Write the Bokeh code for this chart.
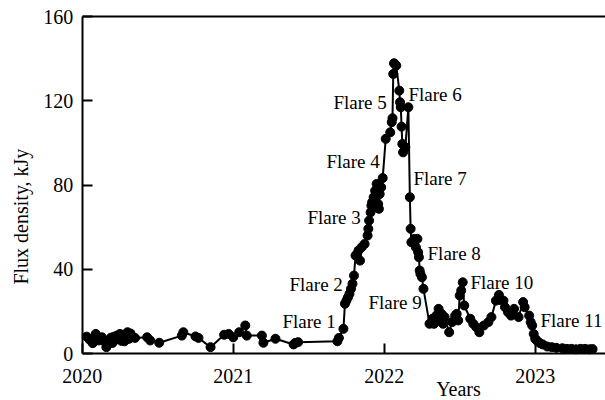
import math
from bokeh.plotting import figure
from bokeh.models import (ColumnDataSource, Range1d, FixedTicker, LinearAxis, Label)
from bokeh.embed import file_html
from bokeh.resources import INLINE

# ---- data (decimal years, flux density in kJy) ----
years = [
    2020.03, 2020.05, 2020.07, 2020.09, 2020.11, 2020.13, 2020.15, 2020.16, 2020.18, 2020.19,
    2020.20, 2020.21, 2020.22, 2020.23, 2020.25, 2020.26, 2020.27, 2020.28, 2020.30, 2020.31,
    2020.32, 2020.33, 2020.35, 2020.43, 2020.45, 2020.51, 2020.66, 2020.67, 2020.75, 2020.77,
    2020.85, 2020.94, 2020.97, 2021.00, 2021.04, 2021.08, 2021.09, 2021.19, 2021.20, 2021.28,
    2021.40, 2021.41, 2021.43, 2021.69, 2021.70, 2021.73, 2021.74, 2021.75, 2021.76, 2021.77,
    2021.78, 2021.79, 2021.80, 2021.81, 2021.82, 2021.83, 2021.84, 2021.85, 2021.87, 2021.89,
    2021.895, 2021.90, 2021.91, 2021.915, 2021.92, 2021.93, 2021.94, 2021.95, 2021.96, 2021.965,
    2021.97, 2021.98, 2021.99, 2022.01, 2022.04, 2022.05, 2022.055, 2022.06, 2022.065, 2022.07,
    2022.08, 2022.10, 2022.105, 2022.11, 2022.115, 2022.12, 2022.125, 2022.14, 2022.16, 2022.17,
    2022.175, 2022.18, 2022.20, 2022.21, 2022.22, 2022.225, 2022.23, 2022.235, 2022.24, 2022.25,
    2022.26, 2022.30, 2022.32, 2022.33, 2022.345, 2022.36, 2022.37, 2022.38, 2022.39, 2022.40,
    2022.43, 2022.45, 2022.47, 2022.48, 2022.49, 2022.50, 2022.51, 2022.52, 2022.53, 2022.57,
    2022.59, 2022.61, 2022.63, 2022.66, 2022.69, 2022.71, 2022.74, 2022.76, 2022.77, 2022.79,
    2022.80, 2022.82, 2022.84, 2022.86, 2022.89, 2022.92, 2022.93, 2022.96, 2022.97, 2022.98,
    2022.99, 2023.00, 2023.01, 2023.03, 2023.05, 2023.08, 2023.11, 2023.14, 2023.18, 2023.21,
    2023.24, 2023.27, 2023.30, 2023.33, 2023.36, 2023.38,
]
flux = [
    8.0, 6.5, 4.9, 9.3, 6.2, 7.7, 5.5, 3.0, 6.0, 7.5,
    5.0, 8.0, 6.5, 8.5, 9.3, 6.0, 8.0, 5.8, 10.1, 7.0,
    9.5, 7.7, 7.4, 7.7, 6.2, 5.1, 8.5, 10.1, 8.1, 7.4,
    3.0, 8.9, 9.3, 7.7, 10.1, 13.3, 8.5, 8.5, 5.1, 7.0,
    4.3, 5.0, 5.4, 5.8, 7.4, 11.7, 23.6, 25.1, 26.7, 28.3,
    30.7, 33.1, 37.0, 46.5, 47.3, 48.9, 44.1, 50.4, 52.0, 56.0,
    59.2, 63.1, 67.0, 70.2, 71.8, 74.2, 77.3, 80.5, 71.0, 68.7,
    75.7, 78.9, 83.3, 101.9, 105.0, 109.8, 111.7, 132.7, 137.8, 137.5,
    136.7, 124.8, 119.3, 116.9, 107.7, 99.5, 95.5, 97.9, 116.9, 74.2,
    59.2, 52.8, 54.4, 50.4, 54.4, 48.1, 45.7, 39.4, 37.8, 36.2,
    30.7, 14.1, 16.5, 14.1, 18.0, 21.2, 15.7, 18.8, 14.1, 17.3,
    10.1, 14.9, 18.0, 18.8, 15.7, 27.5, 29.9, 33.8, 22.8, 16.5,
    14.1, 12.5, 10.1, 13.3, 14.9, 17.3, 25.1, 27.8, 25.4, 25.1,
    22.0, 19.6, 18.0, 21.2, 17.3, 24.4, 22.0, 18.0, 14.9, 13.3,
    9.3, 7.0, 6.2, 5.0, 4.3, 3.3, 3.0, 2.7, 2.5, 2.2,
    2.2, 2.0, 2.2, 2.2, 2.0, 2.1,
]

flare_names = ["Flare 1", "Flare 2", "Flare 3", "Flare 4", "Flare 5", "Flare 6",
               "Flare 7", "Flare 8", "Flare 9", "Flare 10", "Flare 11"]
x_ticks = [2020, 2021, 2022, 2023]
y_ticks = [0, 40, 80, 120, 160]

# ---- layout (not data) ----
X_MIN, X_MAX = 2020, 2023.466          # plotted time span
Y_MIN, Y_MAX = 0, 160                  # plotted flux span
PX_PER_YEAR = 151.0
PX_PER_KJY = 337.0 / 160
LEFT, TOP, BOTTOM = 81.7, 16.0, 47.0   # margins in px
W, H = 605, 400

# label placement (data coordinates: left edge, vertical middle)
flare_label_pos = [
    (2021.326, 15.2), (2021.373, 32.8), (2021.492, 64.6), (2021.618, 91.2),
    (2021.664, 119.2), (2022.161, 123.0), (2022.194, 83.1), (2022.287, 47.5),
    (2021.896, 24.2), (2022.571, 33.7), (2023.035, 15.7),
]

FONT = "Liberation Serif, Times New Roman, serif"

# the frame spans the whole canvas; the axes sit at fixed locations inside it
x_range = Range1d(X_MIN - LEFT / PX_PER_YEAR, X_MIN + (W - LEFT) / PX_PER_YEAR)
y_range = Range1d(Y_MIN - BOTTOM / PX_PER_KJY, Y_MAX + TOP / PX_PER_KJY)

p = figure(width=W, height=H, output_backend="svg", toolbar_location=None,
           x_range=x_range, y_range=y_range,
           min_border_left=0, min_border_right=0, min_border_top=0, min_border_bottom=0)
p.outline_line_color = None
p.grid.visible = False
p.background_fill_color = "white"
p.border_fill_color = "white"

src = ColumnDataSource(dict(x=years, y=flux))
p.line("x", "y", source=src, line_color="black", line_width=2)
p.scatter("x", "y", source=src, size=9, fill_color="black", line_color="black")

xax, yax = p.xaxis[0], p.yaxis[0]
xax.fixed_location = Y_MIN
xax.bounds = (X_MIN, X_MAX)
yax.fixed_location = X_MIN
yax.bounds = (Y_MIN, Y_MAX)
for ax, ticks in ((xax, x_ticks), (yax, y_ticks)):
    ax.ticker = FixedTicker(ticks=ticks)
    ax.major_label_overrides = {t: str(t) for t in ticks}
    ax.axis_line_width = 2
    ax.axis_line_color = "black"
    ax.major_tick_in = 10
    ax.major_tick_out = 0
    ax.major_tick_line_width = 2
    ax.minor_tick_line_color = None
    ax.major_label_text_font = FONT
    ax.major_label_text_font_size = "20px"
    ax.major_label_text_color = "black"
xax.major_label_standoff = 15
yax.major_label_standoff = 9

top = LinearAxis(ticker=FixedTicker(ticks=[]), axis_line_width=2, axis_line_color="black",
                 major_label_text_font_size="0px", major_tick_line_color=None,
                 minor_tick_line_color=None, major_label_standoff=0,
                 fixed_location=Y_MAX, bounds=(X_MIN, X_MAX))
p.add_layout(top, "above")

for name, (lx, ly) in zip(flare_names, flare_label_pos):
    p.add_layout(Label(x=lx, y=ly, text=name, text_font=FONT, text_font_size="19px",
                       text_align="left", text_baseline="middle", text_color="black"))

p.add_layout(Label(x=X_MIN - 61.7 / PX_PER_YEAR, y=65.0, text="Flux density, kJy",
                   angle=math.pi / 2, text_font=FONT, text_font_size="20px",
                   text_align="center", text_baseline="middle", text_color="black"))
p.add_layout(Label(x=2022.492, y=-17.0, text="Years", text_font=FONT,
                   text_font_size="20px", text_align="center", text_baseline="middle",
                   text_color="black"))

open("out.html", "w").write(file_html(p, INLINE))
